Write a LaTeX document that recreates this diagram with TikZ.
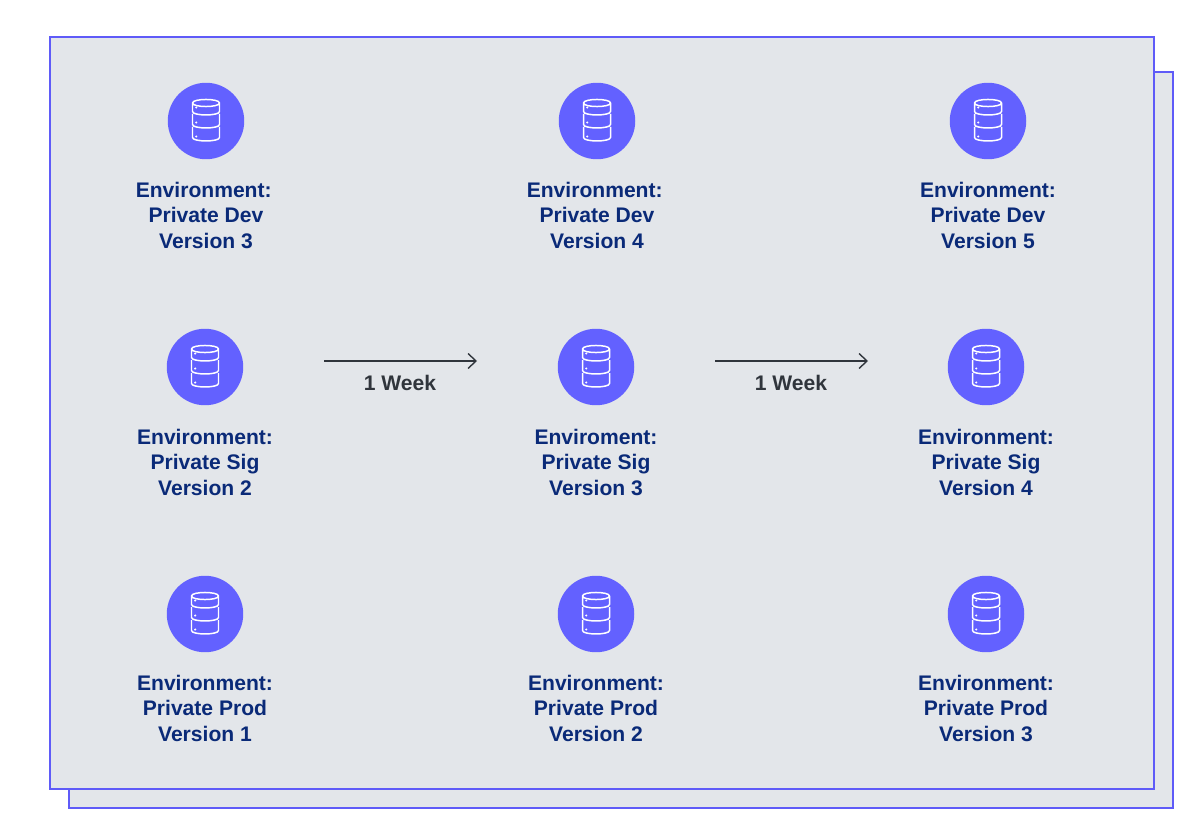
\documentclass[tikz,border=0pt]{standalone}
\usepackage{fontspec}
\setmainfont{Liberation Sans}
\usetikzlibrary{positioning,arrows.meta}
\definecolor{iconblue}{HTML}{6361FF}
\definecolor{edgeblue}{HTML}{5F5BF8}
\definecolor{panelgray}{HTML}{E3E6EA}
\definecolor{labelnavy}{HTML}{0A2A78}
\definecolor{weekgray}{HTML}{30353C}

\tikzset{
  dbicon/.pic={
    \draw[white,line width=0.85pt,line join=round]
      (-13.5,-18) .. controls (-13.5,-22.7) and (13.5,-22.7) .. (13.5,-18)
      .. controls (13.5,-13.3) and (-13.5,-13.3) .. cycle
      (-13.5,-18) -- (-13.5,-9.5) .. controls (-13.5,-4.9) and (13.5,-4.9) .. (13.5,-9.5) -- (13.5,-18)
      (-13.5,-7) -- (-13.5,3.5) .. controls (-13.5,8.1) and (13.5,8.1) .. (13.5,3.5) -- (13.5,-7)
      (-13.5,6) -- (-13.5,16.5) .. controls (-13.5,21.1) and (13.5,21.1) .. (13.5,16.5) -- (13.5,6);
    \fill[white] (-9.8,-13.5) circle (1.2) (-9.8,1.5) circle (1.2) (-9.8,15.5) circle (1.2);
  }
}

\begin{document}
\begin{tikzpicture}[
  x=0.02cm,y=-0.02cm,
  panel/.style={rectangle,draw=edgeblue,fill=panelgray,line width=1.5pt},
  dbnode/.style={circle,fill=iconblue,inner sep=0pt,minimum size=1.53cm},
  envlabel/.style={align=center,text=labelnavy,font=\fontsize{12}{14.5}\selectfont\bfseries},
  weeklabel/.style={text=weekgray,font=\fontsize{12}{14.5}\selectfont\bfseries},
  arr/.style={-{Straight Barb[length=4.5pt,width=8.5pt]},draw=weekgray,line width=0.8pt},
]
\useasboundingbox (0,0) rectangle (1200,838);

% === stacked panels ===
\draw[panel] (69,72) rectangle (1173,808);
\draw[panel] (50,37) rectangle (1154,789);

% === Dev row ===
\node[dbnode] (dev3) at (206,121) {};
\node[dbnode] (dev4) at (597,121) {};
\node[dbnode] (dev5) at (988,121) {};
\pic at (dev3) {dbicon};
\pic at (dev4) {dbicon};
\pic at (dev5) {dbicon};
\node[envlabel] (dev3txt) at (206,215.4) {Environment:\kern 2.6pt\\Private Dev\\Version 3};
\node[envlabel] (dev4txt) at (597,215.4) {Environment:\kern 2.6pt\\Private Dev\\Version 4};
\node[envlabel] (dev5txt) at (988,215.4) {Environment:\\Private Dev\\Version 5};

% === Sig row ===
\node[dbnode] (sig2) at (205,367) {};
\node[dbnode] (sig3) at (596,367) {};
\node[dbnode] (sig4) at (986,367) {};
\pic at (sig2) {dbicon};
\pic at (sig3) {dbicon};
\pic at (sig4) {dbicon};
\node[envlabel] (sig2txt) at (205,462) {Environment:\\Private Sig\\Version 2};
\node[envlabel] (sig3txt) at (596,462) {Enviroment:\\Private Sig\\Version 3};
\node[envlabel] (sig4txt) at (986,462) {Environment:\\Private Sig\\Version 4};

% === Prod row ===
\node[dbnode] (prod1) at (205,614) {};
\node[dbnode] (prod2) at (596,614) {};
\node[dbnode] (prod3) at (986,614) {};
\pic at (prod1) {dbicon};
\pic at (prod2) {dbicon};
\pic at (prod3) {dbicon};
\node[envlabel] (prod1txt) at (205,708) {Environment:\\Private Prod\\Version 1};
\node[envlabel] (prod2txt) at (596,708) {Environment:\\Private Prod\\Version 2};
\node[envlabel] (prod3txt) at (986,708) {Environment:\\Private Prod\\Version 3};

% Week arrows
\coordinate (wk1a) at (324,361);
\coordinate (wk1b) at (477,361);
\coordinate (wk2a) at (715,361);
\coordinate (wk2b) at (868,361);
\draw[arr] (wk1a) -- (wk1b);
\draw[arr] (wk2a) -- (wk2b);
\node[weeklabel] (wk1txt) at (400,383) {1 Week};
\node[weeklabel] (wk2txt) at (791,383) {1 Week};

\end{tikzpicture}
\end{document}
